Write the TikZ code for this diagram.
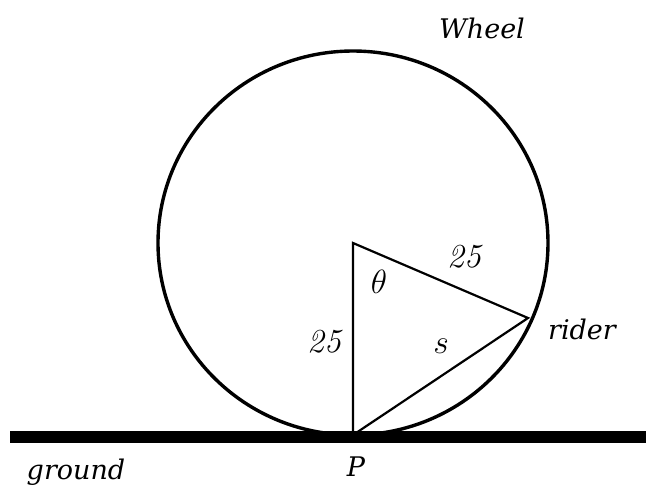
\documentclass[tikz,border=0pt]{standalone}
\usepackage{graphicx}
\usepackage{fontspec}
\newfontfamily\wordfont{DejaVu Serif}
\begin{document}
\begin{tikzpicture}[x=1pt,y=-1pt,
  word/.style={font=\wordfont\itshape\fontsize{27}{30}\selectfont, inner sep=0pt},
  mathlbl/.style={font=\fontsize{24}{28}\selectfont, inner sep=0pt},
  thinline/.style={line width=2.2pt},
  wheelline/.style={line width=3.4pt}]
\useasboundingbox (0,0) rectangle (646,491);
\coordinate (C) at (353,243);
\coordinate (P) at (353,435);
\coordinate (R) at (528,318);
\draw[wheelline] (C) circle [x radius=195, y radius=192];
\draw[line width=12pt] (10,437) coordinate (g1) -- (646,437) coordinate (g2);
\draw[thinline, line join=miter] (P) -- (C) -- (R) -- cycle;
\node[word] (wheel) at (482,28) {Wheel};
\node[word] (rider) at (582,329) {rider};
\node[word] (ground) at (76,472) {ground};
\node[word] (plbl) at (356,467) {P};
\node[mathlbl] (r1) at (465,257) {\scalebox{1.4}{\textit{25}}};
\node[mathlbl] (r2) at (325,342) {\scalebox{1.4}{\textit{25}}};
\node[mathlbl] (th) at (379,282) {\scalebox{1.35}{$\theta$}};
\node[mathlbl] (s) at (441,346) {\scalebox{1.35}{$s$}};
\end{tikzpicture}
\end{document}
